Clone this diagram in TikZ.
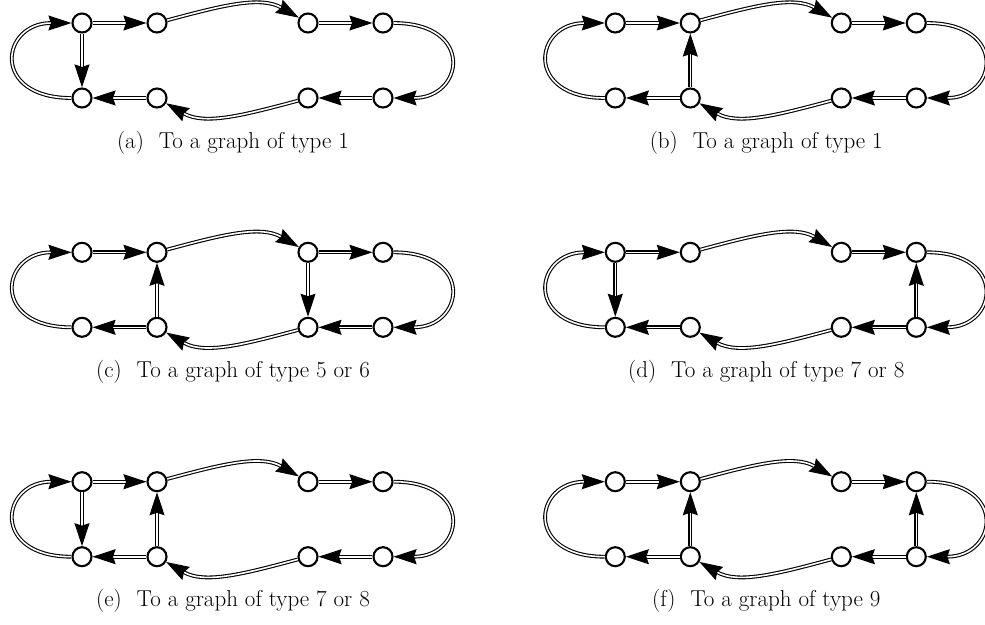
\documentclass[tikz,border=0pt]{standalone}
\usetikzlibrary{arrows.meta}
\tikzset{
  vtx/.style={circle,draw,line width=2.1pt,fill=white,inner sep=0pt,minimum size=19pt},
  dbl/.style={line width=1.1pt,double,double distance=1.6pt,
    -{Stealth[length=23pt,width=15pt,inset=2.5pt]}},
  captext/.style={anchor=base,font=\fontsize{23}{27}\selectfont},
}
\newcommand{\graphpanel}[4]{%
  \begin{scope}[shift={(#2,#3)},name prefix=#1-]
    \node[vtx] (tl) at (82,23) {};
    \node[vtx] (t2) at (157,23) {};
    \node[vtx] (t3) at (308,23) {};
    \node[vtx] (tr) at (383,23) {};
    \node[vtx] (bl) at (82,98) {};
    \node[vtx] (b2) at (157,98) {};
    \node[vtx] (b3) at (308,98) {};
    \node[vtx] (br) at (383,98) {};
    \draw[dbl] (bl) to[out=180,in=180,looseness=2.75] (tl);
    \draw[dbl] (tl) -- (t2);
    \draw[dbl] (t2) to[out=15,in=150] (t3);
    \draw[dbl] (t3) -- (tr);
    \draw[dbl] (tr) to[out=0,in=0,looseness=2.75] (br);
    \draw[dbl] (br) -- (b3);
    \draw[dbl] (b3) to[out=195,in=-30] (b2);
    \draw[dbl] (b2) -- (bl);
    \node[captext] (cap) at (233,148) {#4};
  \end{scope}}
\begin{document}
\begin{tikzpicture}[x=1pt,y=-1pt]
  \useasboundingbox (0,0) rectangle (985,624);
  \graphpanel{a}{0}{0}{(a)\hspace{0.65em}To a graph of type 1}
  \graphpanel{b}{533.3}{0}{(b)\hspace{0.65em}To a graph of type 1}
  \graphpanel{c}{0}{229.3}{(c)\hspace{0.65em}To a graph of type 5 or 6}
  \graphpanel{d}{533.3}{229.3}{(d)\hspace{0.65em}To a graph of type 7 or 8}
  \graphpanel{e}{0}{458.7}{(e)\hspace{0.65em}To a graph of type 7 or 8}
  \graphpanel{f}{533.3}{458.7}{(f)\hspace{0.65em}To a graph of type 9}
  % vertical edges
  \draw[dbl] (a-tl) -- (a-bl);
  \draw[dbl] (b-b2) -- (b-t2);
  \draw[dbl] (c-b2) -- (c-t2);
  \draw[dbl] (c-t3) -- (c-b3);
  \draw[dbl] (d-tl) -- (d-bl);
  \draw[dbl] (d-br) -- (d-tr);
  \draw[dbl] (e-tl) -- (e-bl);
  \draw[dbl] (e-b2) -- (e-t2);
  \draw[dbl] (f-b2) -- (f-t2);
  \draw[dbl] (f-br) -- (f-tr);
\end{tikzpicture}
\end{document}
